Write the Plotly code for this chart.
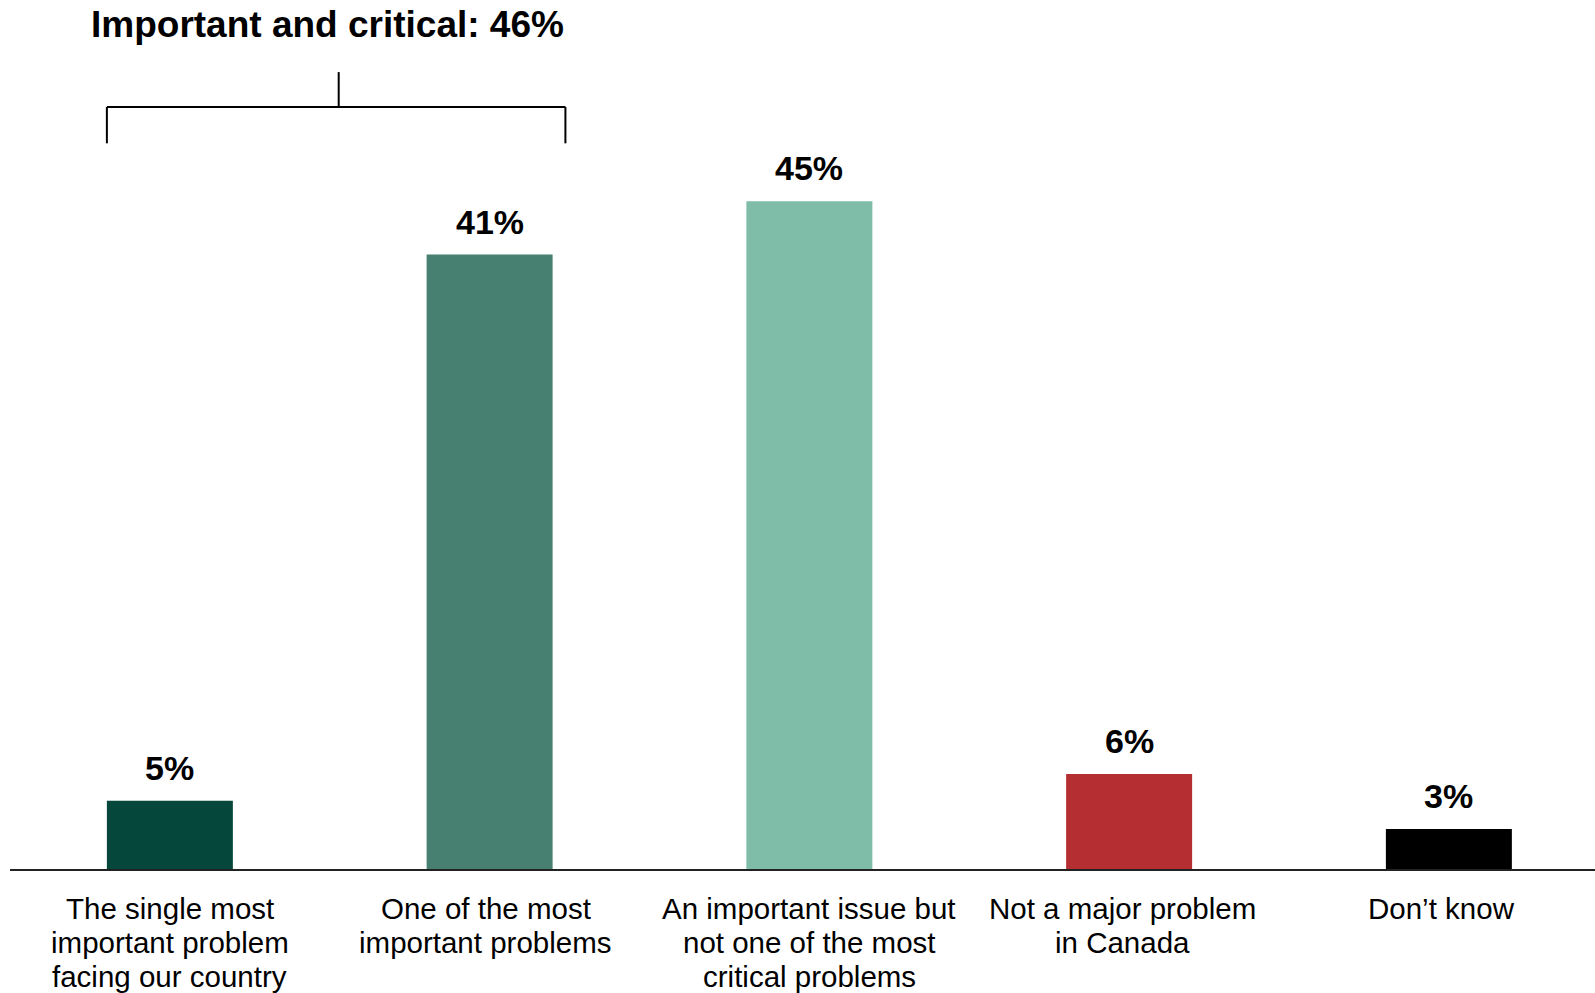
import plotly.graph_objects as go

categories = [
    "The single most<br>important problem<br>facing our country",
    "One of the most<br>important problems",
    "An important issue but<br>not one of the most<br>critical problems",
    "Not a major problem<br>in Canada",
    "Don’t know",
]
values = [4.6, 41.4, 45.0, 6.4, 2.7]
value_labels = ["5%", "41%", "45%", "6%", "3%"]
colors = ["#05473A", "#477F70", "#80BDA9", "#B52E31", "#000000"]
bracket_title = "Important and critical: 46%"

FONT = "Liberation Sans, Arial, sans-serif"
x_idx = list(range(len(categories)))
bar_w = 0.394
label_nudge = [0, -4, 0, -7, -7]     # small horizontal nudges of category labels (px)
PX_PER_UNIT = 14.84                  # pixels per percentage point
FIG_W, FIG_H = 1595, 993
PLOT_H = 869

fig = go.Figure()
fig.add_trace(go.Bar(
    x=x_idx, y=values, width=bar_w,
    marker=dict(color=colors, line=dict(width=0)),
    hoverinfo="skip",
))

# value labels above the bars
for i, (v, t) in enumerate(zip(values, value_labels)):
    fig.add_annotation(x=i, y=v, xref="x", yref="y", text=f"<b>{t}</b>",
                       showarrow=False, yanchor="bottom", yshift=12,
                       font=dict(family=FONT, size=34, color="black"))

# category labels (one annotation per line for tight line spacing)
for i, cat in enumerate(categories):
    for j, ln in enumerate(cat.split("<br>")):
        fig.add_annotation(x=i, y=0, xref="x", yref="y", text=ln,
                           showarrow=False, yanchor="middle",
                           xshift=label_nudge[i], yshift=-39 - 34 * j,
                           font=dict(family=FONT, size=29.5, color="black"))

# bracket over the first two bars
left = 0 - bar_w / 2
right = 1 + 0.237
mid = (left + right) / 2 + 0.008
y_leg = 48.9
y_bar = 51.35
y_top = 53.7
line = dict(color="black", width=2)
fig.add_shape(type="line", x0=left, x1=left, y0=y_leg, y1=y_bar, xref="x", yref="y", line=line)
fig.add_shape(type="line", x0=right, x1=right, y0=y_leg, y1=y_bar, xref="x", yref="y", line=line)
fig.add_shape(type="line", x0=left, x1=right, y0=y_bar, y1=y_bar, xref="x", yref="y", line=line)
fig.add_shape(type="line", x0=mid, x1=mid, y0=y_bar, y1=y_top, xref="x", yref="y", line=line)
fig.add_annotation(x=mid, y=56.9, xref="x", yref="y", text=f"<b>{bracket_title}</b>",
                   showarrow=False, yanchor="middle", xshift=-11,
                   font=dict(family=FONT, size=37, color="black"))

fig.update_layout(
    width=FIG_W, height=FIG_H,
    margin=dict(l=10, r=0, t=0, b=FIG_H - PLOT_H),
    paper_bgcolor="white", plot_bgcolor="white",
    showlegend=False,
    xaxis=dict(
        tickmode="array", tickvals=x_idx, ticktext=[""] * len(x_idx),
        range=[-0.5, -0.5 + 1585 / 319.75],
        showline=True, linecolor="#222222", linewidth=2,
        showgrid=False, zeroline=False, ticks="",
        fixedrange=True,
    ),
    yaxis=dict(
        range=[0, PLOT_H / PX_PER_UNIT], visible=False, showgrid=False, zeroline=False,
        fixedrange=True,
    ),
)

fig.write_html(
    "out.html",
    config={"displayModeBar": False},
    post_script="document.body.style.margin='0';document.body.style.overflow='hidden';",
)
